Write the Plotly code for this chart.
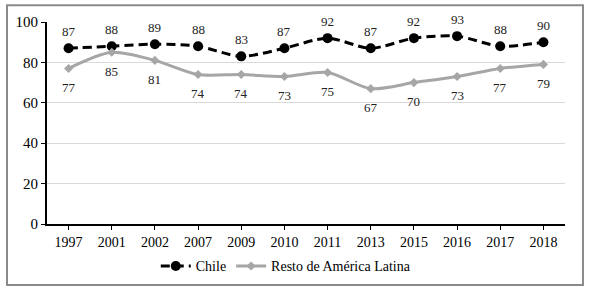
import plotly.graph_objects as go

years = ["1997", "2001", "2002", "2007", "2009", "2010", "2011", "2013", "2015", "2016", "2017", "2018"]
chile = [87, 88, 89, 88, 83, 87, 92, 87, 92, 93, 88, 90]
resto = [77, 85, 81, 74, 74, 73, 75, 67, 70, 73, 77, 79]
y_ticks = [0, 20, 40, 60, 80, 100]

FONT = "Liberation Serif"
xpos = list(range(len(years)))

fig = go.Figure()
fig.add_trace(go.Scatter(
    x=xpos, y=chile, name="Chile", mode="lines+markers",
    line=dict(color="black", width=3, dash="9px,5px", shape="spline", smoothing=0.8),
    marker=dict(symbol="circle", size=10, color="black"),
))
fig.add_trace(go.Scatter(
    x=xpos, y=resto, name="Resto de América Latina", mode="lines+markers",
    line=dict(color="#a6a6a6", width=3, shape="spline", smoothing=0.8),
    marker=dict(symbol="diamond", size=7, color="#a6a6a6"),
))

annotations = []
for x, v in zip(xpos, chile):
    annotations.append(dict(x=x, y=v, text=str(v), showarrow=False, yshift=17,
                            font=dict(family=FONT, size=13, color="#222")))
for x, v in zip(xpos, resto):
    annotations.append(dict(x=x, y=v, text=str(v), showarrow=False, yshift=-19,
                            font=dict(family=FONT, size=13, color="#222")))

fig.update_layout(
    width=589, height=295,
    margin=dict(l=47, r=24, t=22, b=68),
    paper_bgcolor="white", plot_bgcolor="white",
    font=dict(family=FONT, size=13, color="black"),
    showlegend=True,
    legend=dict(orientation="h", x=0.21, y=-0.21, xanchor="left", yanchor="middle",
                font=dict(family=FONT, size=14), itemwidth=30, tracegroupgap=0),
    annotations=annotations,
    shapes=[dict(type="rect", xref="paper", yref="paper",
                 x0=-0.0772, x1=1.0347, y0=-0.302, y1=1.083,
                 line=dict(color="#8a8a8a", width=2))],
)
fig.update_xaxes(range=[-0.5, len(years) - 0.5], tickvals=xpos, ticktext=years,
                 showline=True, linecolor="black", linewidth=2,
                 ticks="outside", ticklen=4, tickcolor="black", showgrid=False,
                 zeroline=False, tickfont=dict(family=FONT, size=14))
fig.update_yaxes(range=[0, 100], tickvals=y_ticks, showline=True, linecolor="black",
                 linewidth=2, ticks="outside", ticklen=4, tickcolor="black",
                 gridcolor="#d9d9d9", gridwidth=1, zeroline=False,
                 tickfont=dict(family=FONT, size=15))

fig.write_html("out.html", config={"displayModeBar": False},
               post_script="document.body.style.margin='0';document.body.style.overflow='hidden';")
